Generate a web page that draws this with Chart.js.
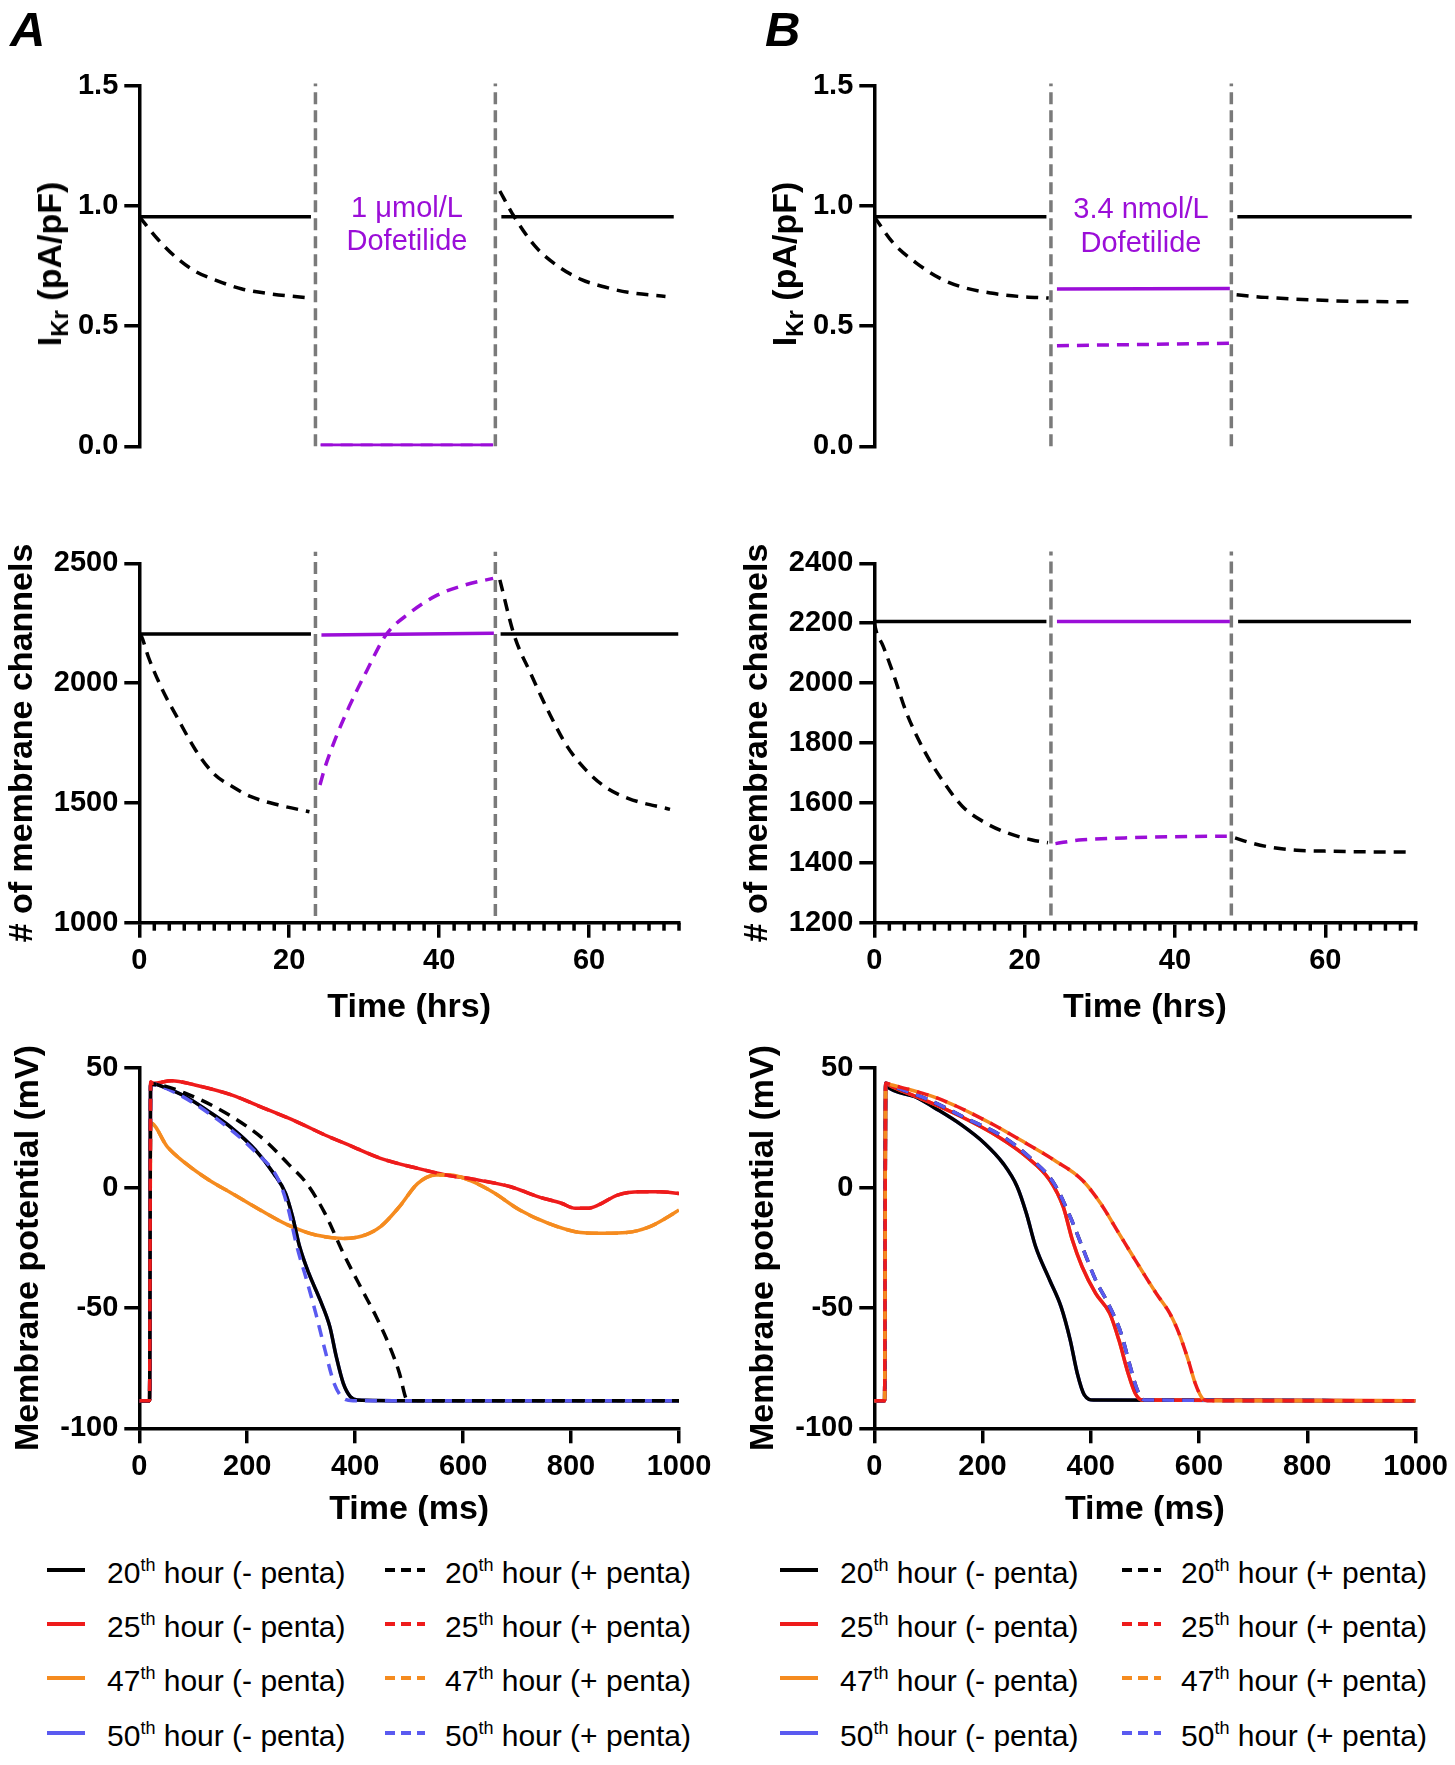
<!DOCTYPE html>
<html><head><meta charset="utf-8">
<script src="https://cdn.jsdelivr.net/npm/chart.js@4.4.1/dist/chart.umd.min.js"></script>
<style>
body{margin:0;background:#fff;width:1455px;height:1765px;position:relative;overflow:hidden;font-family:"Liberation Sans",Arial,Helvetica,sans-serif;color:#000;}
canvas{position:absolute;}
.lbl{position:absolute;white-space:nowrap;line-height:1;z-index:5;}
.letter{font-size:49px;font-weight:bold;font-style:italic;}
.ikr{font-size:34px;font-weight:bold;transform:translate(-50%,-50%) rotate(-90deg);}
.ikr .sub{font-size:24px;position:relative;top:7px;}
.dof{font-size:29px;color:#9b0ed8;transform:translate(-50%,-50%);}
.leg{font-size:30px;transform:translateY(-50%);}
.leg .sup{font-size:18px;position:relative;top:-12px;}
svg{position:absolute;z-index:5;}
</style></head><body>
<div class="lbl letter" style="left:10px;top:5px">A</div>
<div class="lbl letter" style="left:765px;top:5px">B</div>
<div class="lbl ikr" style="left:49px;top:264px">I<span class="sub">Kr</span> (pA/pF)</div>
<div class="lbl ikr" style="left:784px;top:264px">I<span class="sub">Kr</span> (pA/pF)</div>
<div class="lbl dof" style="left:407px;top:207px">1 μmol/L</div>
<div class="lbl dof" style="left:407px;top:240px">Dofetilide</div>
<div class="lbl dof" style="left:1141px;top:208px">3.4 nmol/L</div>
<div class="lbl dof" style="left:1141px;top:242px">Dofetilide</div>
<canvas id="cA1"></canvas><canvas id="cA2"></canvas><canvas id="cA3"></canvas>
<canvas id="cB1"></canvas><canvas id="cB2"></canvas><canvas id="cB3"></canvas>
<div id="legends"></div>
<script>
// ---------------- DATA ----------------
const DOSE_TIMES = [23.5, 47.5];          // hours: drug on / off
const SEP_IKR = [0, 1.51];
const SEP_CH_A = [1028, 2548];
const SEP_CH_B = [1224, 2439];

// Panel A top: IKr (pA/pF) vs time (hrs)
const ikrA_ctrl = [[0,0.956],[22.9,0.956],[35,null],[48.3,0.956],[71.3,0.956]];
const ikrA_penta = [[0,0.956],[2.5,0.861],[5,0.784],[7.5,0.728],[10,0.694],[13.7,0.655],[17.4,0.635],[22.9,0.617],[35,null],[48.1,1.063],[49.7,0.972],[52.8,0.833],[55.9,0.749],[59,0.694],[62.1,0.663],[65.2,0.641],[70.2,0.624]];
const ikrA_dof = [[24.2,0.004],[47.2,0.004]];
const ikrA_dofPenta = [[24.2,0.004],[47.2,0.004]];
// Panel B top
const ikrB_ctrl = [[0,0.956],[22.9,0.956],[35,null],[48.3,0.956],[71.5,0.956]];
const ikrB_penta = [[0,0.956],[2.5,0.847],[5.6,0.763],[8.7,0.70],[11.7,0.663],[15.5,0.638],[19.2,0.624],[23.2,0.617],[35,null],[48.2,0.631],[52,0.62],[58,0.61],[64.3,0.603],[71.3,0.602]];
const ikrB_dof = [[24.3,0.655],[47.3,0.657]];
const ikrB_dofPenta = [[24.3,0.419],[47.3,0.429]];

// Panel A middle: # of membrane channels
const chA_ctrl = [[0,2205],[22.9,2205],[35,null],[48.2,2205],[71.9,2205]];
const chA_penta = [[0,2205],[0.3,2194],[1.2,2110],[3.1,1971],[5,1860],[7.5,1721],[9.9,1623],[12.4,1568],[14.9,1526],[18.6,1491],[22.7,1463],[35,null],[48.1,2431],[50,2201],[52.2,2041],[54.7,1874],[57.1,1735],[59.6,1637],[62.1,1568],[65.2,1519],[70.8,1473]];
const chA_dof = [[24.3,2201],[47.3,2208]];
const chA_dofPenta = [[24.1,1575],[24.8,1651],[26.1,1763],[28,1902],[30.4,2055],[32.9,2201],[36,2291],[39.8,2368],[43.5,2410],[47.2,2437]];
// Panel B middle
const chB_ctrl = [[0,2206],[22.9,2206],[35,null],[48.4,2206],[71.4,2206]];
const chB_penta = [[0,2206],[0.1,2189],[1.2,2122],[2.5,2033],[4.3,1900],[6.8,1767],[9.3,1667],[11.7,1589],[14.8,1533],[17.9,1498],[21,1476],[23.1,1467],[35,null],[48,1483],[50,1467],[52.5,1453],[56.2,1442],[59.9,1439],[63.6,1437],[71,1436]];
const chB_dof = [[24.3,2206],[47.3,2206]];
const chB_dofPenta = [[24.1,1464],[27.2,1476],[30.2,1480],[33.3,1483],[39.5,1487],[46.9,1489]];

// Panel A bottom: membrane potential (mV) vs time (ms)
const apA_20m = [[0,-88.5],[19,-88.5],[21,43.5],[43,42.1],[86,37.9],[129,31.7],[172,24.8],[215,15.8],[249,6],[271,-2.3],[284,-12],[297,-24.4],[314,-35.5],[335,-46.6],[353,-57.7],[365,-70.2],[378,-81.3],[391,-86.8],[404,-88.2],[500,-88.5],[1000,-88.5]];
const apA_20p = [[0,-88.5],[19,-88.5],[21,43],[26,43],[86,39.3],[172,29.6],[232,19.9],[275,10.2],[310,1.9],[344,-10.6],[378,-27.2],[413,-42.5],[439,-53.6],[464,-66],[482,-77.1],[494,-87.5],[499,-88.5],[1000,-88.5]];
const apA_25m = [[0,-88.5],[19,-88.5],[21,44],[26,43.5],[60,44.6],[103,42.8],[172,38.6],[224,33.8],[292,27.5],[344,22],[396,17.1],[447,12.3],[516,8.1],[568,5.4],[619,3.6],[688,0.5],[740,-3.7],[782,-6.4],[808,-8.5],[830,-8.5],[851,-7.1],[886,-3],[929,-1.6],[963,-1.6],[1000,-2.3]];
const apA_25p = apA_25m;
const apA_47m = [[0,-88.5],[19,-88.5],[21,27],[52,17.1],[86,10.2],[129,3.3],[172,-2.3],[224,-9.2],[275,-15.4],[327,-19.6],[378,-21],[413,-20],[447,-16.1],[482,-7.8],[516,1.9],[550,5.4],[576,5.4],[610,3.3],[654,-1.6],[705,-9.2],[757,-14.7],[808,-18.2],[860,-18.9],[903,-18.6],[946,-16.1],[980,-12],[1000,-9.2]];
const apA_47p = apA_47m;
const apA_50m = apA_20m;
const apA_50p = [[0,-88.5],[19,-88.5],[21,43],[43,42],[129,31],[215,15],[258,3.3],[275,-7.8],[292,-24.4],[310,-38.3],[327,-52.2],[344,-67.4],[361,-81.3],[378,-87.5],[396,-88.5],[1000,-88.5]];
// Panel B bottom
const apB_20m = [[0,-88.5],[19,-88.5],[21,43],[24,42.1],[75,37.9],[118,32.4],[161,26.2],[204,18.5],[238,10.2],[264,0.5],[281,-10.6],[298,-24.4],[324,-38.3],[345,-49.4],[362,-63.3],[375,-77.1],[388,-86.1],[405,-88.2],[1000,-88.5]];
const apB_25m = [[0,-88.5],[19,-88.5],[21,43.5],[33,42.1],[92,36.6],[161,29.6],[229,21.3],[281,13],[324,3.3],[349,-7.8],[366,-21.7],[384,-32.8],[409,-43.9],[435,-52.2],[452,-63.3],[469,-77.1],[482,-85.4],[495,-88.2],[1000,-88.5]];
const apB_25p = [[0,-88.5],[19,-88.5],[21,43.5],[33,42.8],[118,37.2],[204,28.2],[281,18.5],[332,11.6],[384,3.3],[418,-6.4],[452,-18.9],[486,-31.4],[521,-43.9],[546,-52.2],[563,-60.5],[580,-71.6],[593,-81.3],[606,-87.5],[615,-88.5],[1000,-88.5]];
const apB_47m = apB_25m;
const apB_47p = apB_25p;
const apB_50p = [[0,-88.5],[19,-88.5],[21,43.5],[33,42.4],[101,36.6],[170,28.9],[238,21.3],[289,12.3],[332,1.9],[362,-12],[384,-24.4],[409,-38.3],[435,-49.4],[456,-60.5],[473,-74.4],[486,-84],[499,-88.2],[1000,-88.5]];
const apB_20p = apB_50p;
const apB_50m = apB_20m;

// Legend
const LEG_HOURS = ['20','25','47','50'];
const LEG_SIGNS = ['-','+'];

// ---------------- STYLE ----------------
const COL = {black:'#000000', red:'#ee1b1b', orange:'#f58b1f', blue:'#5a5af0', purple:'#9b0ed8', gray:'#7a7a7a'};
const HOUR_COL = [COL.black, COL.red, COL.orange, COL.blue];
const FONT = '"Liberation Sans", Arial, Helvetica, sans-serif';
Chart.defaults.font.family = FONT;
Chart.defaults.color = '#000';

function pts(arr){ return arr.map(p => ({x:p[0], y:p[1]})); }
function line(arr, color, dashed, extra){
  return Object.assign({data: pts(arr), borderColor: color, borderWidth: 3.5,
    borderDash: dashed ? [12,8] : [], pointRadius: 0, fill: false,
    cubicInterpolationMode: 'monotone', spanGaps: false}, extra || {});
}
function seps(range){
  return DOSE_TIMES.map(t => ({data: pts([[t, range[0]],[t, range[1]]]), borderColor: COL.gray,
    borderWidth: 3.5, borderDash: [12,6], pointRadius: 0, clip: false, tension: 0}));
}

const minorTicks = {
  id: 'minorTicks',
  afterDraw(chart, args, opts){
    if (!opts || !opts.step) return;
    const xs = chart.scales.x, ctx = chart.ctx, y0 = chart.chartArea.bottom;
    ctx.save(); ctx.strokeStyle = '#000'; ctx.lineWidth = opts.width;
    for (let v = xs.min; v <= xs.max + 1e-9; v += opts.step){
      if (Math.abs(v % opts.major) < 1e-9) continue;
      const px = xs.getPixelForValue(v);
      ctx.beginPath(); ctx.moveTo(px, y0); ctx.lineTo(px, y0 + opts.len); ctx.stroke();
    }
    ctx.restore();
  }
};

function build(id, box, area, cfg){
  const cv = document.getElementById(id);
  cv.width = box.w; cv.height = box.h;
  cv.style.left = box.x + 'px'; cv.style.top = box.y + 'px';
  const xH = cfg.xTitle ? (cfg.xTitleY - area.b + 22.4) : 0;
  const padBottom = box.y + box.h - area.b - xH;
  const tickFont = {family: FONT, size: 29, weight: 'bold'};
  const titleFont = {family: FONT, size: 34, weight: 'bold'};
  new Chart(cv, {
    type: 'line',
    data: {datasets: cfg.datasets},
    options: {
      responsive: false, animation: false, devicePixelRatio: 1,
      layout: {padding: {left: 0, top: area.t - box.y, right: box.x + box.w - area.r, bottom: padBottom}},
      plugins: {legend: {display: false}, tooltip: {enabled: false}, minorTicks: cfg.minor || false},
      scales: {
        x: {
          type: 'linear', min: cfg.xMin, max: cfg.xMax, display: !!cfg.xTitle,
          afterBuildTicks: s => { s.ticks = s.ticks.filter(t => Math.abs(t.value % cfg.xStep) < 1e-6); },
          afterFit: s => { s.height = xH; },
          ticks: {stepSize: cfg.xStep, font: tickFont, color: '#000', padding: 6, maxRotation: 0, minRotation: 0, autoSkip: false,
            callback: v => String(v)},
          grid: {display: true, drawOnChartArea: false, drawTicks: true, tickLength: 15, tickWidth: 3.5, tickColor: '#000', color: '#000', lineWidth: 3.5},
          border: {display: true, color: '#000', width: 3.5},
          title: {display: !!cfg.xTitle, text: cfg.xTitle, font: titleFont, color: '#000', padding: {top: 0, bottom: 2}}
        },
        y: {
          type: 'linear', min: cfg.yMin, max: cfg.yMax,
          afterFit: s => { s.width = area.l - box.x; },
          ticks: {stepSize: cfg.yStep, font: tickFont, color: '#000', padding: 6, callback: cfg.yFmt || (v => String(v))},
          grid: {display: true, drawOnChartArea: false, drawTicks: true, tickLength: 15, tickWidth: 3.5, tickColor: '#000', color: '#000', lineWidth: 3.5},
          border: {display: true, color: '#000', width: 3.5},
          title: {display: !!cfg.yTitle, text: cfg.yTitle, font: titleFont, color: '#000', padding: {top: cfg.yTitlePad || 0, bottom: 0}}
        }
      }
    },
    plugins: [minorTicks]
  });
}

const MINOR = {step: 2, major: 20, len: 8, width: 3.5};
const fmt1 = v => Number(v).toFixed(1);

// ---- Column A ----
build('cA1', {x:0, y:40, w:730, h:440}, {l:139.3, t:86, r:679, b:446.3}, {
  xMin:0, xMax:72, xStep:20, yMin:0, yMax:1.5, yStep:0.5, yFmt: fmt1,
  datasets: [line(ikrA_dofPenta, COL.purple, true), line(ikrA_dof, COL.purple, false),
    line(ikrA_penta, COL.black, true), line(ikrA_ctrl, COL.black, false), ...seps(SEP_IKR)]
});
build('cA2', {x:0, y:520, w:730, h:520}, {l:139.3, t:563.3, r:679, b:922.7}, {
  xMin:0, xMax:72, xStep:20, yMin:1000, yMax:2500, yStep:500, xTitle:'Time (hrs)', xTitleY:1008,
  yTitle:'# of membrane channels', yTitlePad:2, minor: MINOR,
  datasets: [line(chA_dofPenta, COL.purple, true), line(chA_dof, COL.purple, false),
    line(chA_penta, COL.black, true), line(chA_ctrl, COL.black, false), ...seps(SEP_CH_A)]
});
build('cA3', {x:0, y:1030, w:730, h:510}, {l:139.3, t:1067.7, r:679, b:1428.3}, {
  xMin:0, xMax:1000, xStep:200, yMin:-100, yMax:50, yStep:50, xTitle:'Time (ms)', xTitleY:1510,
  yTitle:'Membrane potential (mV)', yTitlePad:8,
  datasets: [line(apA_25p, COL.red, true), line(apA_20p, COL.black, true), line(apA_50p, COL.blue, true),
    line(apA_20m, COL.black, false), line(apA_50m, COL.blue, false), line(apA_47p, COL.orange, true),
    line(apA_47m, COL.orange, false), line(apA_25m, COL.red, false)]
});
// ---- Column B ----
build('cB1', {x:735, y:40, w:720, h:440}, {l:874.3, t:86, r:1415.5, b:446.3}, {
  xMin:0, xMax:72, xStep:20, yMin:0, yMax:1.5, yStep:0.5, yFmt: fmt1,
  datasets: [line(ikrB_dofPenta, COL.purple, true), line(ikrB_dof, COL.purple, false),
    line(ikrB_penta, COL.black, true), line(ikrB_ctrl, COL.black, false), ...seps(SEP_IKR)]
});
build('cB2', {x:735, y:520, w:720, h:520}, {l:874.3, t:563.3, r:1415.5, b:922.7}, {
  xMin:0, xMax:72, xStep:20, yMin:1200, yMax:2400, yStep:200, xTitle:'Time (hrs)', xTitleY:1008,
  yTitle:'# of membrane channels', yTitlePad:2, minor: MINOR,
  datasets: [line(chB_dofPenta, COL.purple, true), line(chB_dof, COL.purple, false),
    line(chB_penta, COL.black, true), line(chB_ctrl, COL.black, false), ...seps(SEP_CH_B)]
});
build('cB3', {x:735, y:1030, w:720, h:510}, {l:874.3, t:1067.7, r:1415.5, b:1428.3}, {
  xMin:0, xMax:1000, xStep:200, yMin:-100, yMax:50, yStep:50, xTitle:'Time (ms)', xTitleY:1510,
  yTitle:'Membrane potential (mV)', yTitlePad:8,
  datasets: [line(apB_25p, COL.red, true), line(apB_47p, COL.orange, true, {borderDashOffset: 10}),
    line(apB_50p, COL.blue, true), line(apB_20p, COL.black, true),
    line(apB_25m, COL.red, false), line(apB_47m, COL.orange, false),
    line(apB_20m, COL.black, false), line(apB_50m, COL.blue, false)]
});

// ---- Legends (HTML) ----
const LEG_ROWS_Y = [1570, 1624, 1678, 1733];
const LEG_COLS = [
  {lineX:47, lineW:38, textX:107, sign:0}, {lineX:385, lineW:40, textX:445, sign:1},
  {lineX:780, lineW:38, textX:840, sign:0}, {lineX:1122, lineW:39, textX:1181, sign:1}
];
const legRoot = document.getElementById('legends');
LEG_COLS.forEach(c => {
  LEG_HOURS.forEach((h, i) => {
    const y = LEG_ROWS_Y[i];
    const svg = document.createElementNS('http://www.w3.org/2000/svg','svg');
    svg.setAttribute('width', c.lineW); svg.setAttribute('height', 10);
    svg.style.left = c.lineX + 'px'; svg.style.top = (y - 5) + 'px';
    const ln = document.createElementNS('http://www.w3.org/2000/svg','line');
    ln.setAttribute('x1', 0); ln.setAttribute('x2', c.lineW); ln.setAttribute('y1', 5); ln.setAttribute('y2', 5);
    ln.setAttribute('stroke', HOUR_COL[i]); ln.setAttribute('stroke-width', 4);
    if (c.sign === 1) ln.setAttribute('stroke-dasharray', '10 6');
    svg.appendChild(ln); legRoot.appendChild(svg);
    const t = document.createElement('div');
    t.className = 'lbl leg';
    t.style.left = c.textX + 'px'; t.style.top = (y + 3) + 'px';
    t.innerHTML = h + '<span class="sup">th</span> hour (' + LEG_SIGNS[c.sign] + ' penta)';
    legRoot.appendChild(t);
  });
});
</script>
</body></html>
